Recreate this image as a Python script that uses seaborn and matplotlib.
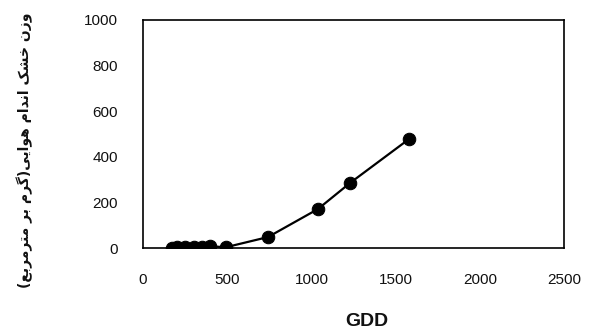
import matplotlib
matplotlib.use("Agg")
import matplotlib.pyplot as plt
import seaborn as sns
import pandas as pd

# ---- data ----
gdd = [170, 200, 250, 300, 350, 400, 490, 742, 1039, 1229, 1580]
dry_weight = [2, 3, 4, 5, 6, 8, 3, 48, 171, 285, 478]
x_ticks = [0, 500, 1000, 1500, 2000, 2500]
y_ticks = [0, 200, 400, 600, 800, 1000]
x_label = "GDD"
y_label = "وزن خشک اندام هوایی(گرم بر مترمربع)"

# ---- minimal Arabic/Persian shaping (presentation forms + visual order) ----
FORMS = {  # iso, fin, ini, med  (None for non-dual)
    "ا": ("\uFE8D", "\uFE8E", None, None),
    "ب": ("\uFE8F", "\uFE90", "\uFE91", "\uFE92"),
    "ت": ("\uFE95", "\uFE96", "\uFE97", "\uFE98"),
    "خ": ("\uFEA5", "\uFEA6", "\uFEA7", "\uFEA8"),
    "د": ("\uFEA9", "\uFEAA", None, None),
    "ر": ("\uFEAD", "\uFEAE", None, None),
    "ز": ("\uFEAF", "\uFEB0", None, None),
    "ش": ("\uFEB5", "\uFEB6", "\uFEB7", "\uFEB8"),
    "ع": ("\uFEC9", "\uFECA", "\uFECB", "\uFECC"),
    "م": ("\uFEE1", "\uFEE2", "\uFEE3", "\uFEE4"),
    "ن": ("\uFEE5", "\uFEE6", "\uFEE7", "\uFEE8"),
    "ه": ("\uFEE9", "\uFEEA", "\uFEEB", "\uFEEC"),
    "و": ("\uFEED", "\uFEEE", None, None),
    "ک": ("\uFB8E", "\uFB8F", "\uFB90", "\uFB91"),
    "گ": ("\uFB92", "\uFB93", "\uFB94", "\uFB95"),
    "ی": ("\uFBFC", "\uFBFD", "\uFBFE", "\uFBFF"),
}


def shape(text):
    out = []
    n = len(text)
    for i, ch in enumerate(text):
        if ch not in FORMS:
            out.append(ch)
            continue
        f = FORMS[ch]
        prev = text[i - 1] if i > 0 else None
        nxt = text[i + 1] if i < n - 1 else None
        join_prev = prev in FORMS and FORMS[prev][2] is not None
        join_next = f[2] is not None and nxt in FORMS
        if join_prev and join_next:
            out.append(f[3])
        elif join_prev:
            out.append(f[1])
        elif join_next:
            out.append(f[2])
        else:
            out.append(f[0])
    vis = "".join(reversed(out))
    return vis.translate(str.maketrans("()", ")("))


df = pd.DataFrame({"GDD": gdd, "weight": dry_weight})

sns.set_style("white")
plt.rcParams["font.family"] = ["Liberation Sans", "DejaVu Sans"]

fig = plt.figure(figsize=(5.92, 3.35), dpi=100)
ax = fig.add_axes([0.2416, 0.2597, 0.7111, 0.6806])

sns.lineplot(data=df, x="GDD", y="weight", ax=ax, color="black",
             marker="o", markersize=9, linewidth=1.6,
             markeredgecolor="black", markerfacecolor="black")

ax.set_xlim(0, 2500)
ax.set_ylim(0, 1000)
ax.set_xticks(x_ticks)
ax.set_yticks(y_ticks)
ax.tick_params(axis="both", direction="out", length=5, width=1.2,
               color="black", labelsize=11, labelcolor="#111111", pad=13)

for s in ax.spines.values():
    s.set_visible(True)
    s.set_color("black")
    s.set_linewidth(1.2)

ax.set_xlabel(x_label, fontsize=14, fontweight="bold", color="#111111")
ax.xaxis.set_label_coords(0.532, -0.285)
ax.xaxis.label.set_verticalalignment("top")

ax.set_ylabel(shape(y_label), fontsize=10, fontweight="bold",
              family=["DejaVu Sans"], color="#111111")
ax.yaxis.set_label_coords(-0.262, 0.43)

fig.savefig("out.png", dpi=100)
